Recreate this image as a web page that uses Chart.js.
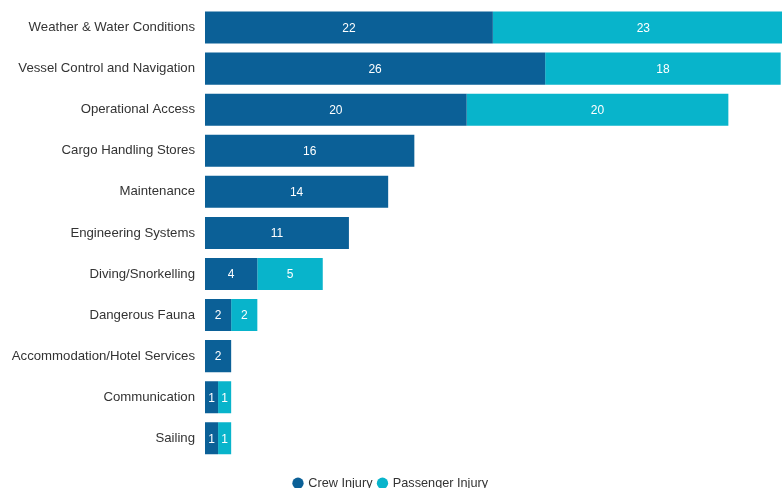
<!DOCTYPE html>
<html>
<head>
<meta charset="utf-8">
<script src="https://cdn.jsdelivr.net/npm/chart.js@4/dist/chart.umd.min.js"></script>
<style>
html,body{margin:0;padding:0;background:#fff;}
#wrap{width:782px;height:488px;position:relative;}
</style>
</head>
<body>
<div id="wrap"><canvas id="c" width="782" height="488"></canvas></div>
<script>
const categories = ["Weather & Water Conditions","Vessel Control and Navigation","Operational Access","Cargo Handling Stores","Maintenance","Engineering Systems","Diving/Snorkelling","Dangerous Fauna","Accommodation/Hotel Services","Communication","Sailing"];
const crewInjury = [22,26,20,16,14,11,4,2,2,1,1];
const passengerInjury = [23,18,20,null,null,null,5,2,null,1,1];
const seriesNames = ["Crew Injury","Passenger Injury"];

const labelPlugin = {
  id:'barLabels',
  afterDatasetsDraw(chart){
    const ctx = chart.ctx;
    ctx.save();
    ctx.font = '12px "Liberation Sans", Arial, sans-serif';
    ctx.fillStyle = '#ffffff';
    ctx.textAlign = 'center';
    ctx.textBaseline = 'middle';
    chart.data.datasets.forEach((ds,i)=>{
      const meta = chart.getDatasetMeta(i);
      meta.data.forEach((el,j)=>{
        const v = ds.data[j];
        if(v==null) return;
        ctx.fillText(String(v),(el.x+el.base)/2,el.y+1);
      });
    });
    ctx.restore();
  }
};

new Chart(document.getElementById('c'),{
  type:'bar',
  data:{
    labels:categories,
    datasets:[
      {label:seriesNames[0],data:crewInjury,backgroundColor:'#0b6097',categoryPercentage:1,barPercentage:0.78},
      {label:seriesNames[1],data:passengerInjury,backgroundColor:'#08b4cb',categoryPercentage:1,barPercentage:0.78}
    ]
  },
  options:{
    indexAxis:'y',
    responsive:false,
    animation:false,
    layout:{padding:{top:7,left:0,right:0,bottom:-11.5}},
    scales:{
      x:{stacked:true,min:0,max:44.1,display:false},
      y:{stacked:true,
        grid:{display:false,drawTicks:false},
        border:{display:false},
        ticks:{padding:10,color:'#333',font:{family:'"Liberation Sans", Arial, sans-serif',size:13.2}},
        afterFit(s){s.width=205;s.paddingTop=0;s.paddingBottom=0;}
      }
    },
    plugins:{
      tooltip:{enabled:false},
      legend:{position:'bottom',
        title:{display:true,text:' ',font:{size:1,lineHeight:1},padding:{top:11,bottom:0}},
        labels:{usePointStyle:true,pointStyle:'circle',boxWidth:8,boxHeight:8,padding:6,color:'#333',font:{family:'"Liberation Sans", Arial, sans-serif',size:12.7}}
      }
    }
  },
  plugins:[labelPlugin]
});
</script>
</body>
</html>
